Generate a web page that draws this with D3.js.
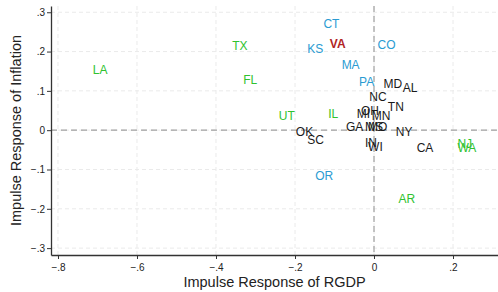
<!DOCTYPE html>
<html>
<head>
<meta charset="utf-8">
<script src="https://cdn.jsdelivr.net/npm/d3@7"></script>
<style>
    body { margin: 0; background: #fff; }
    svg { display: block; font-family: "Liberation Sans", Arial, sans-serif; }
</style>
</head>
<body>
<div id="chart"></div>
<script>
    "use strict";

    // State labels and their impulse responses
    var states = ["CT", "KS", "VA", "CO", "MA", "PA", "MD", "AL", "NC", "TN",
                  "UT", "IL", "MI", "OH", "MN", "GA", "MS", "MO", "NY", "OK",
                  "SC", "IN", "WI", "CA", "NJ", "WA", "OR", "AR", "LA", "TX", "FL"];
    var rgdp = [-0.133, -0.174, -0.117, 0.004, -0.087, -0.043, 0.019, 0.068, -0.017, 0.030,
                -0.246, -0.121, -0.049, -0.038, -0.011, -0.076, -0.028, -0.020, 0.050, -0.203,
                -0.174, -0.028, -0.020, 0.103, 0.206, 0.206, -0.154, 0.057, -0.717, -0.364, -0.336];
    var infl = [0.271, 0.208, 0.220, 0.217, 0.166, 0.124, 0.119, 0.107, 0.084, 0.061,
                0.038, 0.041, 0.042, 0.049, 0.036, 0.009, 0.009, 0.009, -0.003, -0.003,
                -0.024, -0.031, -0.041, -0.045, -0.034, -0.044, -0.115, -0.174, 0.153, 0.214, 0.128];
    var groups = ["b", "b", "r", "b", "b", "b", "k", "k", "k", "k",
                  "g", "g", "k", "k", "k", "k", "k", "k", "k", "k",
                  "k", "k", "k", "k", "g", "g", "b", "g", "g", "g", "g"];

    var xTicks = [-0.8, -0.6, -0.4, -0.2, 0, 0.2];
    var yTicks = [-0.3, -0.2, -0.1, 0, 0.1, 0.2, 0.3];

    var colors = {g: "#2fc22f", b: "#2a9bd2", r: "#b02424", k: "#1a1a1a"};

    var width = 498, height = 292,
        margin = {top: 6, right: 0, bottom: 37, left: 51};

    var x = d3.scaleLinear().domain([-0.8177, 0.3139]).range([margin.left, width - margin.right]),
        y = d3.scaleLinear().domain([-0.3175, 0.3159]).range([height - margin.bottom, margin.top]);

    function fmt(v) {
        if (v === 0) return "0";
        var s = d3.format(".1f")(Math.abs(v)).replace(/^0/, "");
        return (v < 0 ? "\u2212" : "") + s;
    }

    var svg = d3.select("#chart").append("svg")
        .attr("width", width)
        .attr("height", height);

    // grid
    svg.append("g").selectAll("line")
        .data(xTicks)
        .enter().append("line")
        .attr("x1", function (d) { return x(d); })
        .attr("x2", function (d) { return x(d); })
        .attr("y1", margin.top)
        .attr("y2", height - margin.bottom)
        .attr("stroke", "#eaeaea")
        .attr("stroke-dasharray", "4,3");

    svg.append("g").selectAll("line")
        .data(yTicks)
        .enter().append("line")
        .attr("y1", function (d) { return y(d); })
        .attr("y2", function (d) { return y(d); })
        .attr("x1", margin.left)
        .attr("x2", width - margin.right)
        .attr("stroke", "#eaeaea")
        .attr("stroke-dasharray", "4,3");

    // reference lines at zero
    svg.append("line")
        .attr("x1", x(0)).attr("x2", x(0))
        .attr("y1", margin.top).attr("y2", height - margin.bottom)
        .attr("stroke", "#a0a0a0")
        .attr("stroke-width", 1.2)
        .attr("stroke-dasharray", "6,4");
    svg.append("line")
        .attr("y1", y(0)).attr("y2", y(0))
        .attr("x1", margin.left).attr("x2", width - margin.right)
        .attr("stroke", "#a0a0a0")
        .attr("stroke-width", 1.2)
        .attr("stroke-dasharray", "6,4");

    // axes
    var xAxis = svg.append("g")
        .attr("transform", "translate(0," + (height - margin.bottom) + ")")
        .call(d3.axisBottom(x).tickValues(xTicks).tickFormat(fmt).tickSize(4).tickSizeOuter(0));
    var yAxis = svg.append("g")
        .attr("transform", "translate(" + margin.left + ",0)")
        .call(d3.axisLeft(y).tickValues(yTicks).tickFormat(fmt).tickSize(4).tickSizeOuter(0));

    [xAxis, yAxis].forEach(function (a) {
        a.select(".domain").attr("stroke", "#333").attr("stroke-width", 1.3);
        a.selectAll(".tick line").attr("stroke", "#333");
        a.selectAll(".tick text")
            .attr("fill", "#222")
            .style("font-size", "10px")
            .style("font-family", "Liberation Sans, Arial, sans-serif");
    });
    xAxis.selectAll(".tick text").attr("dy", "0.9em");
    yAxis.selectAll(".tick text").attr("x", -6);

    // axis titles
    svg.append("text")
        .attr("x", (margin.left + width - margin.right) / 2)
        .attr("y", 287)
        .attr("text-anchor", "middle")
        .attr("fill", "#222")
        .style("font-size", "14.5px")
        .text("Impulse Response of RGDP");

    svg.append("text")
        .attr("transform", "translate(21," + ((margin.top + height - margin.bottom) / 2) + ") rotate(-90)")
        .attr("text-anchor", "middle")
        .attr("fill", "#222")
        .style("font-size", "14.5px")
        .text("Impulse Response of Inflation");

    // state labels
    svg.append("g").selectAll("text")
        .data(states)
        .enter().append("text")
        .attr("x", function (d, i) { return x(rgdp[i]) + 2; })
        .attr("y", function (d, i) { return y(infl[i]); })
        .attr("dy", "0.36em")
        .attr("fill", function (d, i) { return colors[groups[i]]; })
        .style("font-size", "12px")
        .style("font-weight", function (d, i) { return groups[i] === "r" ? "bold" : "normal"; })
        .text(function (d) { return d; });
</script>
</body>
</html>
